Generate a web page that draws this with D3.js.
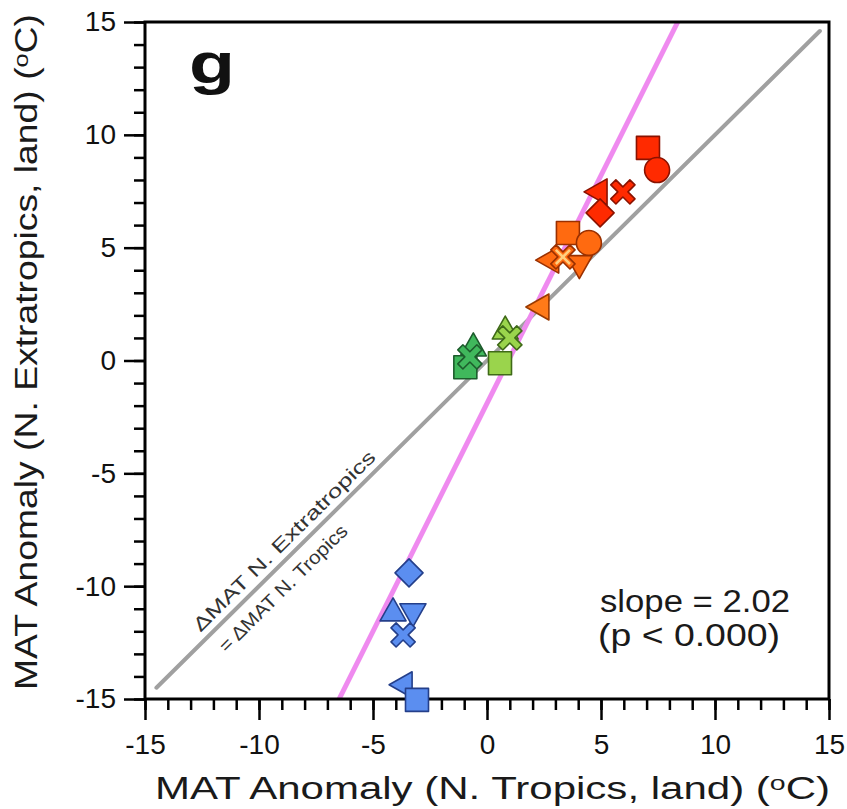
<!DOCTYPE html>
<html>
<head>
<meta charset="utf-8">
<script src="https://cdn.jsdelivr.net/npm/d3@7"></script>
<style>
  html, body { margin: 0; padding: 0; background: #fff; }
  svg { display: block; }
  text { font-family: "Liberation Sans", Arial, Helvetica, sans-serif; }
</style>
</head>
<body>
<svg id="chart" width="847" height="809"></svg>
<script>
// Axis ticks
const majorTicks = [-15, -10, -5, 0, 5, 10, 15];
const minorTicks = d3.range(-15, 16, 1);

// Regression fit of extratropical vs tropical anomaly
const fitSlope = 2.02;
const fitIntercept = -1.9;

// Model groups: colour and outline
const groupNames   = ["warm-strong", "warm", "warm-weak", "neutral-warm", "neutral", "cold"];
const groupFill    = ["#ff2a00", "#ff6a10", "#ff7a18", "#9ad44c", "#40b85c", "#5b8ef0"];
const groupStroke  = ["#8a1200", "#9a3000", "#9a3a00", "#3f6a18", "#1d5c2c", "#243f8a"];

// Points: N. Tropics anomaly (x), N. Extratropics anomaly (y)
const pointGroup  = [0, 0, 0, 0, 0,   1, 1, 1, 1, 1,   2,   3, 3, 3,   4, 4, 4,   5, 5, 5, 5, 5, 5];
const pointSymbol = ["square", "circle", "triLeft", "cross", "diamond",
                     "square", "circle", "triLeft", "triDown", "cross",
                     "triLeft",
                     "triUp", "square", "cross",
                     "triUp", "square", "cross",
                     "diamond", "triUp", "triDown", "cross", "triLeft", "square"];
const tropicsX    = [7.06, 7.46, 4.87, 5.96, 4.96,
                     3.55, 4.47, 2.75, 4.05, 3.33,
                     2.32,
                     0.80, 0.57, 1.00,
                     -0.60, -0.95, -0.75,
                     -3.42, -4.12, -3.25, -3.68, -3.68, -3.07];
const extraY      = [9.42, 8.44, 7.47, 7.47, 6.54,
                     5.65, 5.21, 4.45, 4.25, 4.59,
                     2.37,
                     1.35, -0.12, 1.00,
                     0.60, -0.30, 0.16,
                     -9.41, -11.14, -11.18, -12.16, -14.37, -15.04];
// Light overprint for crosses of the "warm" group
const crossInner  = ["", "", "", "", "", "", "", "", "", "#ffcf80", "", "", "", "", "", "", "", "", "", "", "", "", ""];

const svg = d3.select("#chart");
const x = d3.scaleLinear().domain([-15, 15]).range([145, 829]);
const y = d3.scaleLinear().domain([-15, 15]).range([699, 22]);

// Custom marker shapes for d3.symbol
function poly(pts) {
  return { draw(ctx) { ctx.moveTo(pts[0][0], pts[0][1]); for (let i = 1; i < pts.length; i++) ctx.lineTo(pts[i][0], pts[i][1]); ctx.closePath(); } };
}
function crossPts(a, L) {
  const base = [[-a, -L], [a, -L], [a, -a], [L, -a], [L, a], [a, a], [a, L], [-a, L], [-a, a], [-L, a], [-L, -a], [-a, -a]];
  const c = Math.SQRT1_2;
  return base.map(([px, py]) => [c * (px - py), c * (px + py)]);
}
const shapes = {
  square:  poly([[-11.5, -11.5], [11.5, -11.5], [11.5, 11.5], [-11.5, 11.5]]),
  circle:  { draw(ctx) { ctx.moveTo(12.5, 0); ctx.arc(0, 0, 12.5, 0, 2 * Math.PI); } },
  triUp:   poly([[0, -14], [13, 9], [-13, 9]]),
  triDown: poly([[0, 14], [13, -9], [-13, -9]]),
  triLeft: poly([[-14, 0], [9, -13], [9, 13]]),
  diamond: poly([[0, -14], [14, 0], [0, 14], [-14, 0]]),
  cross:   poly(crossPts(3.6, 13.5))
};
const innerCross = poly(crossPts(1.3, 10));

// Clip region for lines inside the frame
svg.append("defs").append("clipPath").attr("id", "plotClip")
  .append("rect").attr("x", x(-15)).attr("y", y(15)).attr("width", x(15) - x(-15)).attr("height", y(-15) - y(15));

// 1:1 reference line
svg.append("line")
  .attr("x1", x(-14.5)).attr("y1", y(-14.5)).attr("x2", x(14.6)).attr("y2", y(14.6))
  .attr("stroke", "#a0a0a0").attr("stroke-width", 4).attr("stroke-linecap", "round");

// 1:1 line caption
const ang = Math.atan2(y(10) - y(-10), x(10) - x(-10)) * 180 / Math.PI;
const cap = svg.append("g")
  .attr("transform", `translate(${x(-15)},${y(-15)}) rotate(${ang})`)
  .attr("fill", "#333").attr("font-size", 19);
cap.append("text").attr("x", 86).attr("y", -8).attr("textLength", 248).attr("lengthAdjust", "spacingAndGlyphs")
  .text("\u0394MAT N. Extratropics");
cap.append("text").attr("x", 90).attr("y", 25).attr("textLength", 172).attr("lengthAdjust", "spacingAndGlyphs")
  .text("= \u0394MAT N. Tropics");

// Regression line
svg.append("line").attr("clip-path", "url(#plotClip)")
  .attr("x1", x((-15 - fitIntercept) / fitSlope)).attr("y1", y(-15))
  .attr("x2", x((15 - fitIntercept) / fitSlope)).attr("y2", y(15))
  .attr("stroke", "#ef8aef").attr("stroke-width", 5);

// Frame
svg.append("rect")
  .attr("x", x(-15)).attr("y", y(15)).attr("width", x(15) - x(-15)).attr("height", y(-15) - y(15))
  .attr("fill", "none").attr("stroke", "#000").attr("stroke-width", 3);

// Axes: minor and major ticks
const tickFont = g => g.selectAll(".tick text")
  .attr("font-size", 28).attr("fill", "#111").attr("font-family", "Liberation Sans, Arial, sans-serif");
function styleAxis(g) {
  g.select(".domain").remove();
  g.selectAll(".tick line").attr("stroke", "#000").attr("stroke-width", 2.5);
}
svg.append("g").attr("transform", `translate(0,${y(-15)})`)
  .call(d3.axisBottom(x).tickValues(minorTicks).tickSize(11).tickFormat(""))
  .call(styleAxis);
svg.append("g").attr("transform", `translate(0,${y(-15)})`)
  .call(d3.axisBottom(x).tickValues(majorTicks).tickSize(21).tickPadding(14).tickFormat(d => String(d)))
  .call(styleAxis).call(tickFont);
svg.append("g").attr("transform", `translate(${x(-15)},0)`)
  .call(d3.axisLeft(y).tickValues(minorTicks).tickSize(11).tickFormat(""))
  .call(styleAxis);
svg.append("g").attr("transform", `translate(${x(-15)},0)`)
  .call(d3.axisLeft(y).tickValues(majorTicks).tickSize(21).tickPadding(8).tickFormat(d => String(d)))
  .call(styleAxis).call(tickFont);

// Data points
const pts = svg.append("g");
tropicsX.forEach((xv, i) => {
  const gi = pointGroup[i];
  const t = `translate(${x(xv)},${y(extraY[i])})`;
  pts.append("path")
    .attr("d", d3.symbol().type(shapes[pointSymbol[i]])())
    .attr("transform", t)
    .attr("fill", groupFill[gi]).attr("stroke", groupStroke[gi]).attr("stroke-width", 1.6)
    .attr("stroke-linejoin", "round");
  if (crossInner[i]) {
    pts.append("path").attr("d", d3.symbol().type(innerCross)())
      .attr("transform", t).attr("fill", crossInner[i]);
  }
});

// Panel letter
svg.append("text").attr("x", 189).attr("y", 83).attr("font-size", 58).attr("font-weight", "bold")
  .attr("fill", "#111").attr("textLength", 46).attr("lengthAdjust", "spacingAndGlyphs").text("g");

// Fit annotation
svg.append("text").attr("x", 600).attr("y", 612).attr("font-size", 31).attr("fill", "#1a1a1a")
  .attr("textLength", 190).attr("lengthAdjust", "spacingAndGlyphs").text(`slope = ${fitSlope.toFixed(2)}`);
svg.append("text").attr("x", 598).attr("y", 646).attr("font-size", 31).attr("fill", "#1a1a1a")
  .attr("textLength", 182).attr("lengthAdjust", "spacingAndGlyphs").text("(p < 0.000)");

// Axis titles
const xt = svg.append("text").attr("x", 155).attr("y", 799).attr("font-size", 31).attr("fill", "#1a1a1a")
  .attr("textLength", 675).attr("lengthAdjust", "spacingAndGlyphs");
xt.append("tspan").text("MAT Anomaly (N. Tropics, land) (");
xt.append("tspan").attr("dy", -9).attr("font-size", 21).text("o");
xt.append("tspan").attr("dy", 9).text("C)");

const yt = svg.append("text").attr("transform", "translate(37,690) rotate(-90)").attr("font-size", 31).attr("fill", "#1a1a1a")
  .attr("textLength", 676).attr("lengthAdjust", "spacingAndGlyphs");
yt.append("tspan").text("MAT Anomaly (N. Extratropics, land) (");
yt.append("tspan").attr("dy", -9).attr("font-size", 21).text("o");
yt.append("tspan").attr("dy", 9).text("C)");
</script>
</body>
</html>
